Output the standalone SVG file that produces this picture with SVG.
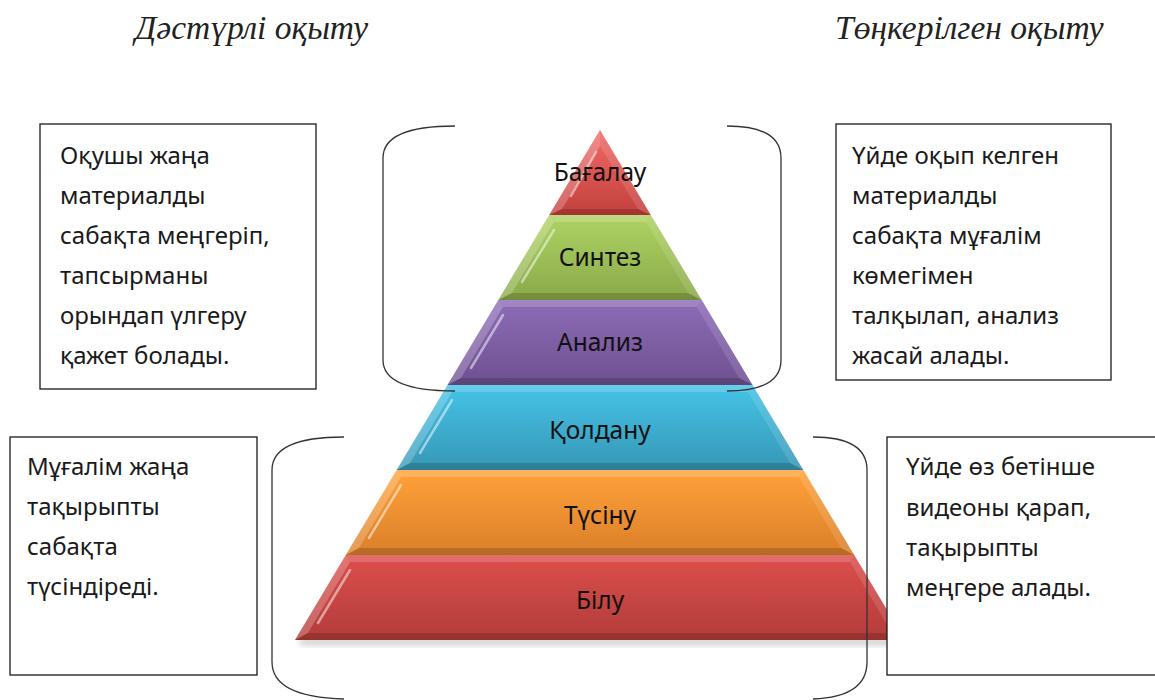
<svg xmlns="http://www.w3.org/2000/svg" width="1155" height="700" viewBox="0 0 1155 700">
<defs>
<style>
.title{font-family:"Liberation Serif","DejaVu Serif",serif;font-style:italic;font-size:33.5px;fill:#222}
.box{fill:#fff;stroke:#1a1a1a;stroke-width:1.3}
.bt{font-family:"Noto Sans","Liberation Sans",sans-serif;font-size:24px;fill:#1a1a1a}
.lbl{font-family:"Noto Sans","Liberation Sans",sans-serif;font-size:24.5px;fill:#111;text-anchor:middle}
.br{fill:none;stroke:#333;stroke-width:1.3}
.bevL{fill:#fff;opacity:0.22}
.bevR{fill:#fff;opacity:0.12}
.bevT{fill:#fff;opacity:0.18}
.bevB{fill:#000;opacity:0.16}
.hl{stroke:#fff;stroke-width:2.5;stroke-linecap:round;opacity:0.5;fill:none}
</style>
<linearGradient id="gRed1" x1="0" y1="0" x2="0" y2="1"><stop offset="0" stop-color="#f26a66"/><stop offset="1" stop-color="#c2403d"/></linearGradient>
<linearGradient id="gGreen" x1="0" y1="0" x2="0" y2="1"><stop offset="0" stop-color="#aed363"/><stop offset="1" stop-color="#8aa94a"/></linearGradient>
<linearGradient id="gPurple" x1="0" y1="0" x2="0" y2="1"><stop offset="0" stop-color="#8e6cb8"/><stop offset="1" stop-color="#6e5090"/></linearGradient>
<linearGradient id="gCyan" x1="0" y1="0" x2="0" y2="1"><stop offset="0" stop-color="#45c3e8"/><stop offset="1" stop-color="#3797b5"/></linearGradient>
<linearGradient id="gOrange" x1="0" y1="0" x2="0" y2="1"><stop offset="0" stop-color="#ffa23a"/><stop offset="1" stop-color="#db7f2a"/></linearGradient>
<linearGradient id="gRed2" x1="0" y1="0" x2="0" y2="1"><stop offset="0" stop-color="#dc4f4c"/><stop offset="1" stop-color="#b23c3a"/></linearGradient>
<filter id="sh" x="-10%" y="-50%" width="120%" height="200%"><feGaussianBlur stdDeviation="3"/></filter>
</defs>

<text class="title" x="135" y="39">Дәстүрлі оқыту</text>
<text class="title" x="835" y="39">Төңкерілген оқыту</text>

<g id="pyramid">
  <rect x="300" y="639" width="600" height="6" fill="#888" opacity="0.45" filter="url(#sh)"/>
  <g id="layer-bagalau">
    <polygon points="600,130 650.8,215 549.2,215" fill="url(#gRed1)"/>
    <polygon class="bevL" points="600,130 549.2,215 562,209 600,146"/>
    <polygon class="bevR" points="600,130 650.8,215 638,209 600,146"/>
    <polygon class="bevB" points="549.2,215 650.8,215 638,209 562,209"/>
    <line class="hl" x1="596" y1="152" x2="571" y2="196"/>
    <text class="lbl" x="600" y="181">Бағалау</text>
  </g>
  <g id="layer-sintez">
    <polygon points="549.2,215 650.8,215 701.7,300 498.3,300" fill="url(#gGreen)"/>
    <polygon class="bevT" points="549.2,215 650.8,215 646,222 554,222"/>
    <polygon class="bevL" points="549.2,215 554,222 512,293 498.3,300"/>
    <polygon class="bevR" points="650.8,215 646,222 688,293 701.7,300"/>
    <polygon class="bevB" points="498.3,300 701.7,300 688,293 512,293"/>
    <line class="hl" x1="554" y1="230" x2="522" y2="282"/>
    <text class="lbl" x="600" y="266">Синтез</text>
  </g>
  <g id="layer-analiz">
    <polygon points="498.3,300 701.7,300 752.5,385 447.5,385" fill="url(#gPurple)"/>
    <polygon class="bevT" points="498.3,300 701.7,300 697,307 503,307"/>
    <polygon class="bevL" points="498.3,300 503,307 461,378 447.5,385"/>
    <polygon class="bevR" points="701.7,300 697,307 739,378 752.5,385"/>
    <polygon class="bevB" points="447.5,385 752.5,385 739,378 461,378"/>
    <line class="hl" x1="503" y1="315" x2="471" y2="368"/>
    <text class="lbl" x="600" y="351">Анализ</text>
  </g>
  <g id="layer-koldanu">
    <polygon points="447.5,385 752.5,385 803.3,470 396.7,470" fill="url(#gCyan)"/>
    <polygon class="bevT" points="447.5,385 752.5,385 748,392 452,392"/>
    <polygon class="bevL" points="447.5,385 452,392 410,463 396.7,470"/>
    <polygon class="bevR" points="752.5,385 748,392 790,463 803.3,470"/>
    <polygon class="bevB" points="396.7,470 803.3,470 790,463 410,463"/>
    <line class="hl" x1="452" y1="400" x2="420" y2="453"/>
    <text class="lbl" x="600" y="439">Қолдану</text>
  </g>
  <g id="layer-tusinu">
    <polygon points="396.7,470 803.3,470 854.2,555 345.8,555" fill="url(#gOrange)"/>
    <polygon class="bevT" points="396.7,470 803.3,470 799,477 401,477"/>
    <polygon class="bevL" points="396.7,470 401,477 359,548 345.8,555"/>
    <polygon class="bevR" points="803.3,470 799,477 841,548 854.2,555"/>
    <polygon class="bevB" points="345.8,555 854.2,555 841,548 359,548"/>
    <line class="hl" x1="401" y1="485" x2="369" y2="538"/>
    <text class="lbl" x="600" y="524">Түсіну</text>
  </g>
  <g id="layer-bilu">
    <polygon points="345.8,555 854.2,555 905,640 295,640" fill="url(#gRed2)"/>
    <polygon class="bevT" points="345.8,555 854.2,555 850,562 350,562"/>
    <polygon class="bevL" points="345.8,555 350,562 308,633 295,640"/>
    <polygon class="bevR" points="854.2,555 850,562 892,633 905,640"/>
    <polygon class="bevB" points="295,640 905,640 892,633 308,633"/>
    <line class="hl" x1="350" y1="570" x2="318" y2="623"/>
    <text class="lbl" x="600" y="609">Білу</text>
  </g>
</g>

<g id="connectors">
  <path class="br" d="M455,126 Q383,126 383,158 L383,360 Q383,391 455,391"/>
  <path class="br" d="M727,126 Q781,126 781,158 L781,360 Q781,391 727,391"/>
  <path class="br" d="M344,437 Q272,437 272,470 L272,662 Q272,697 344,699"/>
  <path class="br" d="M813,437 Q867,437 867,470 L867,662 Q867,697 813,699"/>
</g>

<g id="box-top-left">
  <rect class="box" x="40" y="124" width="276" height="265"/>
  <text class="bt" x="60" y="164">Оқушы жаңа</text>
  <text class="bt" x="60" y="204">материалды</text>
  <text class="bt" x="60" y="244">сабақта меңгеріп,</text>
  <text class="bt" x="60" y="284">тапсырманы</text>
  <text class="bt" x="60" y="324">орындап үлгеру</text>
  <text class="bt" x="60" y="364">қажет болады.</text>
</g>
<g id="box-top-right">
  <rect class="box" x="836" y="124" width="275" height="256"/>
  <text class="bt" x="852" y="164">Үйде оқып келген</text>
  <text class="bt" x="852" y="204">материалды</text>
  <text class="bt" x="852" y="244">сабақта мұғалім</text>
  <text class="bt" x="852" y="284">көмегімен</text>
  <text class="bt" x="852" y="324">талқылап, анализ</text>
  <text class="bt" x="852" y="364">жасай алады.</text>
</g>
<g id="box-bottom-left">
  <rect class="box" x="10" y="437" width="247" height="238"/>
  <text class="bt" x="27" y="475">Мұғалім жаңа</text>
  <text class="bt" x="27" y="515">тақырыпты</text>
  <text class="bt" x="27" y="555">сабақта</text>
  <text class="bt" x="27" y="595">түсіндіреді.</text>
</g>
<g id="box-bottom-right">
  <rect class="box" x="887" y="437" width="280" height="238"/>
  <text class="bt" x="906" y="475">Үйде өз бетінше</text>
  <text class="bt" x="906" y="516">видеоны қарап,</text>
  <text class="bt" x="906" y="556">тақырыпты</text>
  <text class="bt" x="906" y="596">меңгере алады.</text>
</g>
</svg>
